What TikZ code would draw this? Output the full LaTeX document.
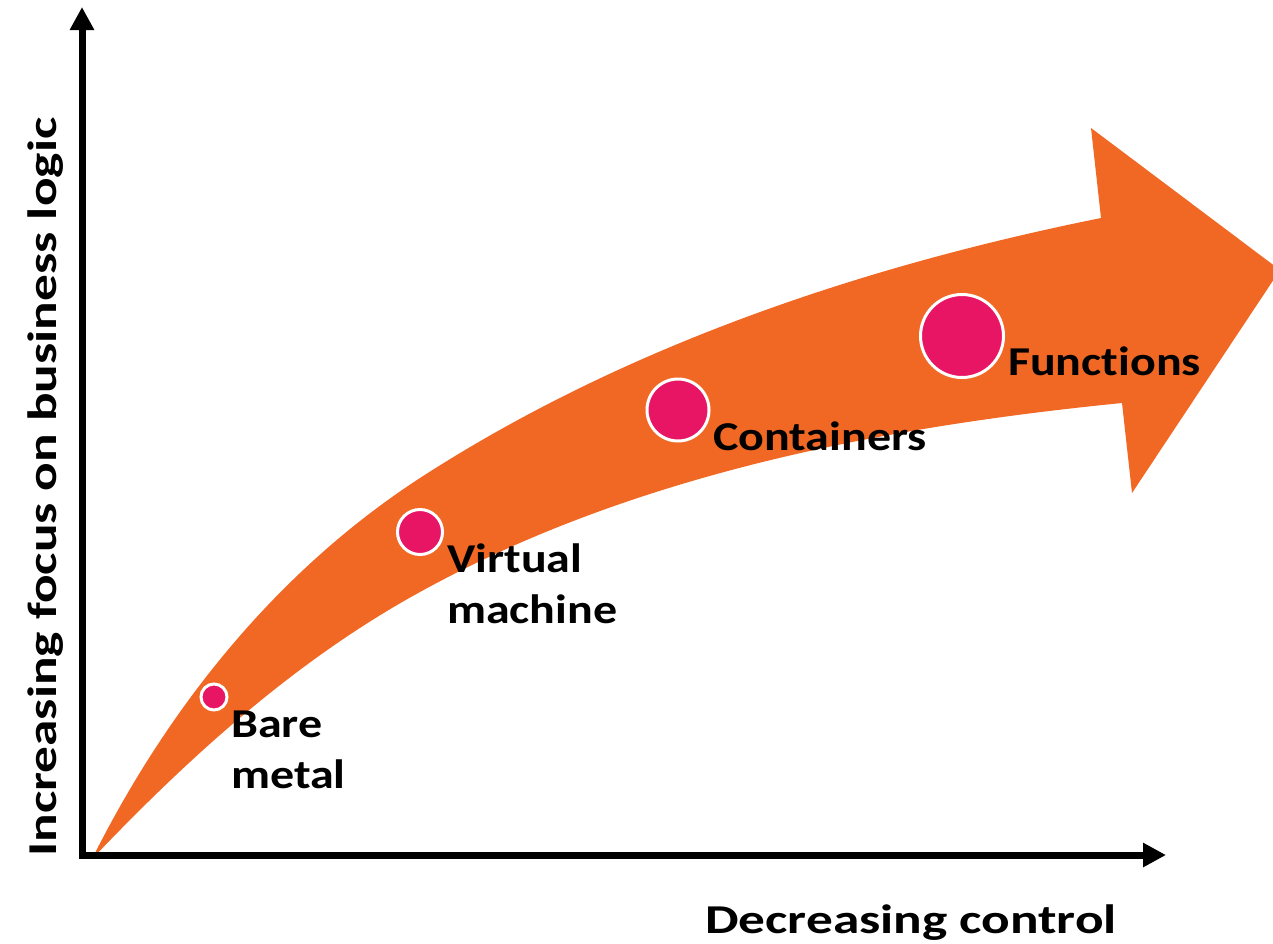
\documentclass[tikz,border=0pt]{standalone}
\usepackage{fontspec}
\setmainfont{Carlito}[Ligatures=NoCommon]
\usetikzlibrary{arrows.meta}
\definecolor{bandorange}{RGB}{241,104,36}
\definecolor{dotpink}{RGB}{232,20,100}
\newcommand{\wideA}[1]{\scalebox{1.17}[1]{#1}}
\newcommand{\wideB}[1]{\scalebox{1.30}[1]{#1}}
\tikzset{
  axis/.style={line width=7pt, -{Triangle[length=23pt,width=23pt]}},
  dot/.style={circle, fill=dotpink, draw=white, line width=3pt, inner sep=0pt},
  lbl/.style={anchor=base west, inner sep=0pt, font=\fontsize{41}{50}\selectfont\bfseries}
}
\begin{document}
\begin{tikzpicture}[x=1pt,y=-1pt]
\useasboundingbox (0,0) rectangle (1273,943);
\clip (0,0) rectangle (1273,943);
% band arrow
\fill[bandorange] (92,859) .. controls (168,707) and (277,571) .. (420,478)
  .. controls (624,346) and (863,266) .. (1101,218)
  -- (1091,128) -- (1280,270) -- (1132,493) -- (1122,403)
  .. controls (881,427) and (632,475) .. (420,592)
  .. controls (296,660) and (189,757) .. (92,859) -- cycle;
% axes
\coordinate (ytip) at (82,7);
\coordinate (corner) at (82,855);
\coordinate (xtip) at (1166,855);
\draw[axis] (corner) -- (ytip);
\draw[axis] (corner) -- (xtip);
\fill (78.5,851.5) rectangle (85.5,858.5);
% dots
\node[dot, minimum size=26pt] (bare) at (214,697) {};
\node[dot, minimum size=45pt] (vm) at (420,532) {};
\node[dot, minimum size=62pt] (cont) at (678,410) {};
\node[dot, minimum size=83pt] (func) at (962,336) {};
% labels
\node[lbl] (bare1) at (231,737) {\wideA{Bare}};
\node[lbl] (bare2) at (231,788) {\wideA{metal}};
\node[lbl] (vm1) at (447,572) {\wideA{Virtual}};
\node[lbl] (vm2) at (447,623) {\wideA{machine}};
\node[lbl] (contl) at (713,450) {\wideA{Containers}};
\node[lbl] (funcl) at (1008,375) {\wideA{Functions}};
\node[lbl] (xlab) at (705,933) {\wideB{Decreasing control}};
\node[lbl, rotate=90] (ylab) at (56,857) {\wideB{Increasing focus on business logic}};
\end{tikzpicture}
\end{document}
